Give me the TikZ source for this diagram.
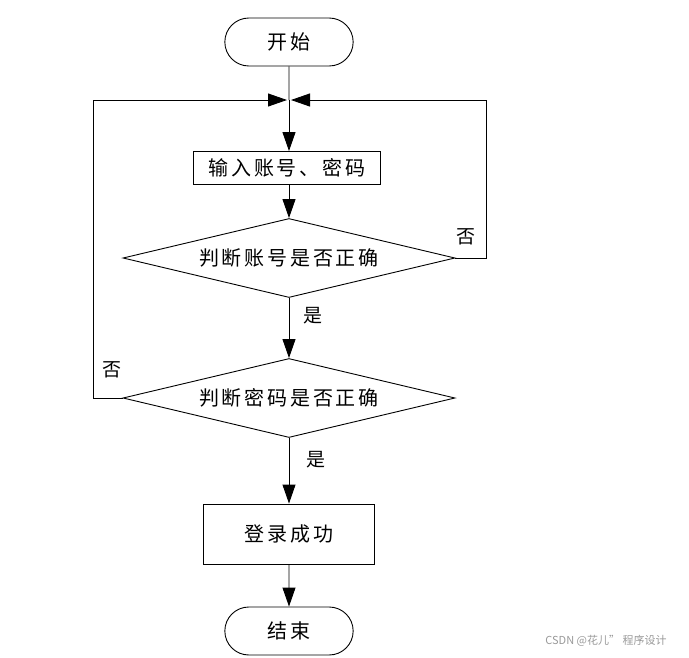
\documentclass[tikz,border=0pt]{standalone}
\usepackage{fontspec}
\setmainfont{Noto Sans CJK SC}
\newfontfamily\spaced[LetterSpace=14]{Noto Sans CJK SC}
\usetikzlibrary{arrows.meta}
\usetikzlibrary{shapes.geometric, shapes.misc}
\usetikzlibrary{positioning}
\tikzset{
    flow/.style={line width=0.9pt, -{Triangle[length=19pt,width=13pt]}},
    terminal/.style={draw, line width=0.9pt, rounded rectangle, minimum width=135pt, minimum height=48pt, font=\spaced\fontsize{20}{22}\selectfont},
    process/.style={draw, line width=0.9pt, rectangle, inner sep=2pt, font=\spaced\fontsize{20}{22}\selectfont},
    decision/.style={draw, line width=0.9pt, diamond, aspect=4.2, inner sep=0pt, minimum width=332pt, minimum height=79pt, font=\spaced\fontsize{20}{22}\selectfont},
    lbl/.style={font=\fontsize{19}{21}\selectfont}
}
\begin{document}
\begin{tikzpicture}[x=1pt, y=-1pt]
        \useasboundingbox (0,0) rectangle (689,657);

        \node [terminal] (start) at (289,42) {开始};
        \coordinate (merge) at (289,100);
        \node [process, minimum width=187pt, minimum height=33pt] (input) at (287,168) {输入账号、密码};
        \node [decision] (checkid) at (289,258) {判断账号是否正确};
        \node [decision] (checkpw) at (289,398) {判断密码是否正确};
        \node [process, minimum width=171pt, minimum height=60pt] (login) at (289,534) {登录成功};
        \node [terminal] (stop) at (289,631) {结束};
        \coordinate (rightc) at (486,258);
        \coordinate (leftc) at (93,398);

        \draw [line width=0.9pt] (start) -- (merge);
        \draw [flow] (merge) -- (merge |- input.north);
        \draw [flow] (input.south -| checkid.north) -- (checkid.north);
        \draw [flow] (checkid.south) -- (checkpw.north);
        \node [lbl] (yesid) at (313,316) {是};
        \draw [flow] (checkpw.south) -- (login.north);
        \node [lbl] (yespw) at (316,460) {是};
        \draw [flow] (login) -- (stop);

        \draw [flow, shorten >=2pt] (checkid.east) -- (rightc) |- (merge);
        \node [lbl] (noid) at (466,237) {否};
        \draw [flow, shorten >=2pt] (checkpw.west) -- (leftc) |- (merge);
        \node [lbl] (nopw) at (112,370) {否};

        \node [text=black!40, font=\fontsize{11}{13}\selectfont] (mark) at (606,641) {CSDN @花儿" 程序设计};
    \end{tikzpicture}
\end{document}
